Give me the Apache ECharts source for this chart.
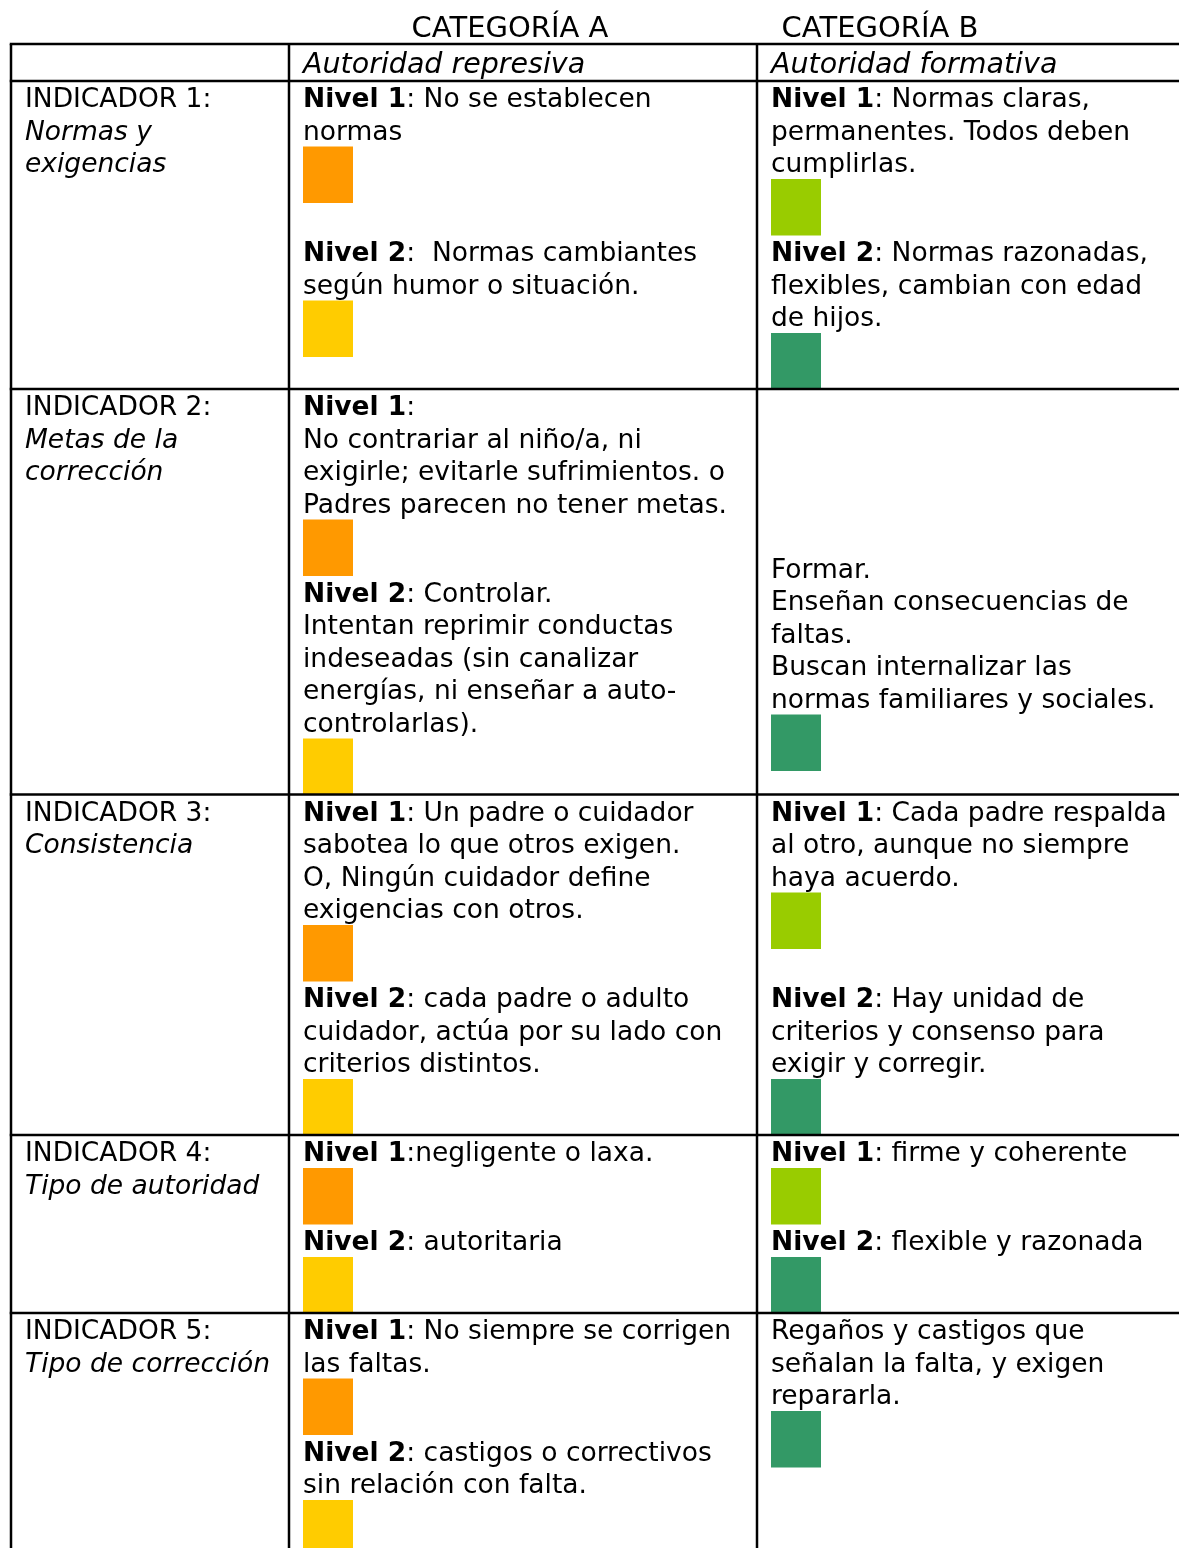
<!DOCTYPE html>
<html><head><meta charset="utf-8">
<script src="https://cdn.jsdelivr.net/npm/echarts@6/dist/echarts.min.js"></script>
<style>html,body{margin:0;padding:0;background:#fff}#chart{width:1179px;height:1548px}</style>
</head><body><div id="chart"></div>
<script>
// ---------------- DATA ----------------
const categoryTitles = ['CATEGORÍA A', 'CATEGORÍA B'];
const categorySubtitles = ['Autoridad represiva', 'Autoridad formativa'];
const indicatorLabels = ['INDICADOR 1:', 'INDICADOR 2:', 'INDICADOR 3:', 'INDICADOR 4:', 'INDICADOR 5:'];
const indicatorNames = [
  ['Normas y', 'exigencias'],
  ['Metas de la', 'corrección'],
  ['Consistencia'],
  ['Tipo de autoridad'],
  ['Tipo de corrección']
];
// '■X' marks a level swatch (A1/A2 = niveles de categoría A, B1/B2 = categoría B)
const categoryACells = [
  ['{b|Nivel 1}: No se establecen', 'normas', '■A1', '', '{b|Nivel 2}:  Normas cambiantes', 'según humor o situación.', '■A2'],
  ['{b|Nivel 1}:', 'No contrariar al niño/a, ni', 'exigirle; evitarle sufrimientos. o', 'Padres parecen no tener metas.', '■A1',
   '{b|Nivel 2}: Controlar.', 'Intentan reprimir conductas', 'indeseadas (sin canalizar', 'energías, ni enseñar a auto-', 'controlarlas).', '■A2'],
  ['{b|Nivel 1}: Un padre o cuidador', 'sabotea lo que otros exigen.', 'O, Ningún cuidador define', 'exigencias con otros.', '■A1',
   '{b|Nivel 2}: cada padre o adulto', 'cuidador, actúa por su lado con', 'criterios distintos.', '■A2'],
  ['{b|Nivel 1}:negligente o laxa.', '■A1', '{b|Nivel 2}: autoritaria', '■A2'],
  ['{b|Nivel 1}: No siempre se corrigen', 'las faltas.', '■A1', '{b|Nivel 2}: castigos o correctivos', 'sin relación con falta.', '■A2']
];
const categoryBCells = [
  ['{b|Nivel 1}: Normas claras,', 'permanentes. Todos deben', 'cumplirlas.', '■B1', '{b|Nivel 2}: Normas razonadas,', 'flexibles, cambian con edad', 'de hijos.', '■B2'],
  ['', '', '', '', '', 'Formar.', 'Enseñan consecuencias de', 'faltas.', 'Buscan internalizar las', 'normas familiares y sociales.', '■B2'],
  ['{b|Nivel 1}: Cada padre respalda', 'al otro, aunque no siempre', 'haya acuerdo.', '■B1', '',
   '{b|Nivel 2}: Hay unidad de', 'criterios y consenso para', 'exigir y corregir.', '■B2'],
  ['{b|Nivel 1}: firme y coherente', '■B1', '{b|Nivel 2}: flexible y razonada', '■B2'],
  ['Regaños y castigos que', 'señalan la falta, y exigen', 'repararla.', '■B2']
];

// ---------------- STYLE / LAYOUT ----------------
const SWATCH_COLORS = { A1: '#FF9900', A2: '#FFCC00', B1: '#99CC00', B2: '#339966' };
const FONT = 'DejaVu Sans';
const FS = 26.5;
const LINE_H = 32.5, SWATCH_BOX_H = 56.5, SWATCH_W = 50, SWATCH_H = 56.5;
const COL_EDGES = [11, 289, 757, 1200];
const TEXT_PAD = [14, 14, 14];
const TABLE_TOP = 44, HEADER_BOTTOM = 81;
const TEXT_DY = 2.5;
const LINE_W = 2.5;

const isSwatch = s => s.charAt(0) === '■';
const itemH = s => isSwatch(s) ? SWATCH_BOX_H : LINE_H;
const cellH = items => items.reduce((a, s) => a + itemH(s), 0);

// row tops derived from content flow
const rowTops = [];
let acc = HEADER_BOTTOM;
indicatorLabels.forEach((_, i) => {
  rowTops.push(acc);
  const col0 = (1 + indicatorNames[i].length) * LINE_H;
  acc += Math.max(col0, cellH(categoryACells[i]), cellH(categoryBCells[i]));
});
rowTops.push(acc);

function textEl(api, x, y, text, opts) {
  const p = api.coord([x, y]);
  return {
    type: 'text', x: p[0], y: p[1] + TEXT_DY,
    style: Object.assign({
      text: text, fill: '#000', fontFamily: FONT, fontSize: FS,
      align: 'left', verticalAlign: 'middle',
      rich: { b: { fontFamily: FONT, fontSize: FS, fontWeight: 'bold', fill: '#000' } }
    }, opts || {})
  };
}
function lineEl(api, x1, y1, x2, y2) {
  const a = api.coord([x1, y1]), b = api.coord([x2, y2]);
  return { type: 'line', shape: { x1: a[0], y1: a[1], x2: b[0], y2: b[1] },
           style: { stroke: '#000', lineWidth: LINE_W } };
}
function cellEls(api, items, col, top) {
  const out = [];
  let y = top + 0.5;
  const x = COL_EDGES[col] + TEXT_PAD[col];
  items.forEach(s => {
    if (isSwatch(s)) {
      const p = api.coord([x, y]);
      const q = api.coord([x + SWATCH_W, y + SWATCH_H]);
      out.push({ type: 'rect', shape: { x: p[0], y: p[1], width: q[0] - p[0], height: q[1] - p[1] },
                 style: { fill: SWATCH_COLORS[s.slice(1)] } });
    } else if (s) {
      out.push(textEl(api, x, y + LINE_H / 2, s));
    }
    y += itemH(s);
  });
  return out;
}

function renderHeader(params, api) {
  const ch = [];
  ch.push(textEl(api, 510, 27, categoryTitles[0], { align: 'center', fontSize: 29 }));
  ch.push(textEl(api, 880, 27, categoryTitles[1], { align: 'center', fontSize: 29 }));
  categorySubtitles.forEach((t, k) => {
    ch.push(textEl(api, COL_EDGES[k + 1] + TEXT_PAD[k + 1], (TABLE_TOP + HEADER_BOTTOM) / 2 + 0.5, t, { fontStyle: 'italic', fontSize: 28.5 }));
  });
  ch.push(lineEl(api, COL_EDGES[0] - 1.25, TABLE_TOP, COL_EDGES[3], TABLE_TOP));
  ch.push(lineEl(api, COL_EDGES[0] - 1.25, HEADER_BOTTOM, COL_EDGES[3], HEADER_BOTTOM));
  for (let k = 0; k < 3; k++) ch.push(lineEl(api, COL_EDGES[k], TABLE_TOP, COL_EDGES[k], HEADER_BOTTOM));
  return { type: 'group', children: ch };
}

function renderRow(params, api) {
  const r = api.value(0);
  const top = rowTops[r], bottom = rowTops[r + 1];
  const ch = [];
  ch.push(...cellEls(api, [indicatorLabels[r]], 0, top));
  indicatorNames[r].forEach((t, j) => {
    ch.push(textEl(api, COL_EDGES[0] + TEXT_PAD[0], top + 0.5 + LINE_H * (j + 1) + LINE_H / 2, t, { fontStyle: 'italic' }));
  });
  ch.push(...cellEls(api, categoryACells[r], 1, top));
  ch.push(...cellEls(api, categoryBCells[r], 2, top));
  for (let k = 0; k < 3; k++) ch.push(lineEl(api, COL_EDGES[k], top, COL_EDGES[k], bottom));
  ch.push(lineEl(api, COL_EDGES[0] - 1.25, bottom, COL_EDGES[3], bottom));
  return { type: 'group', children: ch };
}

const chart = echarts.init(document.getElementById('chart'), null, { renderer: 'canvas' });
chart.setOption({
  backgroundColor: '#fff',
  animation: false,
  grid: { left: 0, right: 0, top: 0, bottom: 0 },
  xAxis: { type: 'value', min: 0, max: 1179, show: false },
  yAxis: { type: 'value', min: 0, max: 1548, inverse: true, show: false },
  series: [
    { type: 'custom', renderItem: renderHeader, data: [[0]], clip: false, silent: true },
    { type: 'custom', renderItem: renderRow, data: indicatorLabels.map((_, i) => [i]), clip: false, silent: true }
  ]
});
</script></body></html>
